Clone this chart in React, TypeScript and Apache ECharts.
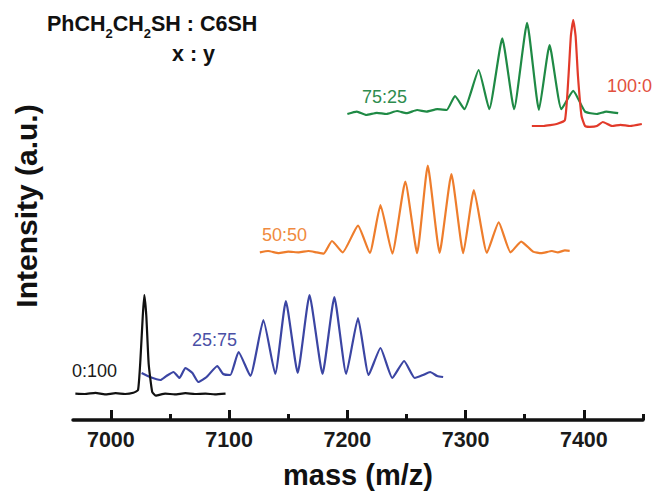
import React, { useEffect, useRef } from "react";
import * as echarts from "echarts";

// Axis ticks (mass, m/z)
const majorTicks = [7000, 7100, 7200, 7300, 7400];
const minorTicks = [7050, 7150, 7250, 7350, 7450];

// 0:100 (black)
const mass0_100 = [6970, 6978, 6987, 6995, 7004, 7012, 7019, 7023, 7025, 7027, 7028.3, 7030, 7032, 7035, 7038, 7046, 7054, 7063, 7071, 7080, 7088, 7097];
const int0_100 = [6.6, 6.5, 6.8, 6.4, 6.7, 6.5, 6.8, 7.5, 15, 26, 31.2, 26, 14, 7, 6.1, 6.6, 6.4, 6.7, 6.5, 6.6, 6.4, 6.6];

// 25:75 (blue)
const mass25_75 = [7026, 7033, 7042, 7047, 7053, 7058, 7063, 7069, 7074, 7081, 7090, 7095, 7101, 7108, 7118, 7129, 7139, 7148, 7158, 7168, 7179, 7189, 7199, 7209, 7218, 7228, 7238, 7248, 7257, 7264, 7270, 7276, 7281];
const int25_75 = [11.75, 10.75, 10, 11, 12, 10.5, 13, 11.75, 9.5, 10.75, 13.5, 11.5, 11.25, 17, 11, 25, 11.5, 29.75, 11.75, 31.25, 11.5, 30.75, 11.5, 25.5, 11.25, 18, 10.5, 14.75, 10.5, 11.25, 12, 11, 10.75];

// 50:50 (orange)
const mass50_50 = [7126, 7133, 7142, 7150, 7159, 7167, 7174, 7180, 7187, 7196, 7209, 7219, 7228, 7238, 7249, 7259, 7268, 7278, 7288, 7298, 7307, 7318, 7328, 7338, 7347, 7357, 7364, 7373, 7378, 7384, 7388];
const int50_50 = [41.9, 42.25, 41.7, 42.1, 41.9, 42.25, 41.9, 41.6, 44.75, 41.9, 48.6, 41.75, 53.75, 41.6, 59.6, 41.7, 63.6, 41.8, 61.5, 41.7, 57.5, 41.8, 49.4, 41.9, 44.6, 42.1, 41.7, 42.25, 41.9, 42.4, 42.3];

// 75:25 (green)
const mass75_25 = [7200, 7208, 7216, 7225, 7233, 7242, 7250, 7259, 7267, 7276, 7284, 7291, 7299, 7311, 7320, 7331, 7341, 7352, 7362, 7371, 7381, 7391, 7401, 7411, 7419, 7429];
const int75_25 = [76.5, 77.1, 76.25, 76.8, 76.5, 77.25, 76.7, 77.5, 77.1, 77.7, 77.5, 81, 77.7, 87.5, 77.7, 95.4, 77.7, 99.3, 77.5, 93.75, 77.7, 82.3, 77.1, 76.5, 77.1, 76.7];

// 100:0 (red)
const mass100_0 = [7356, 7366, 7377, 7384, 7387, 7389, 7391, 7393, 7395, 7398, 7401, 7405, 7411, 7416, 7424, 7431, 7439, 7449];
const int100_0 = [73.5, 73.5, 74, 75, 86, 96, 100, 96, 86, 76, 73.5, 73.3, 73.5, 74.5, 73.5, 73.8, 73.5, 74];

const pairs = (m: number[], v: number[]) => m.map((x, i) => [x, v[i]]);

const FONT = "'Liberation Sans', Arial, Helvetica, sans-serif";

export default function App() {
  const ref = useRef<HTMLDivElement>(null);
  useEffect(() => {
    document.body.style.margin = "0";
    const chart = echarts.init(ref.current as HTMLDivElement, null, { renderer: "svg" });
    const line = (data: number[][], color: string, z: number) => ({
      type: "line",
      data,
      showSymbol: false,
      smooth: 0.15,
      z,
      lineStyle: { color, width: 2.2 },
      itemStyle: { color },
      silent: true,
    });
    chart.setOption({
      animation: false,
      backgroundColor: "#ffffff",
      grid: { left: 73, right: 9, top: 20, bottom: 72, containLabel: false, outerBoundsMode: "none" },
      xAxis: [
        {
          type: "value",
          min: 6968,
          max: 7450,
          position: "bottom",
          axisLine: { show: true, onZero: false, lineStyle: { color: "#111", width: 3.5 } },
          axisTick: { show: true, inside: true, length: 10, customValues: majorTicks, lineStyle: { color: "#111", width: 3 } },
          axisLabel: {
            customValues: majorTicks,
            formatter: (v: number) => String(v),
            fontSize: 21.5,
            fontWeight: "bold",
            color: "#1a1a1a",
            margin: 9,
            fontFamily: FONT,
          },
          splitLine: { show: false },
          name: "mass (m/z)",
          nameLocation: "middle",
          nameGap: 40,
          nameTextStyle: { fontSize: 29, fontWeight: "bold", color: "#111", fontFamily: FONT, lineHeight: 30 },
        },
        {
          type: "value",
          min: 6968,
          max: 7450,
          position: "bottom",
          axisLine: { show: false },
          axisTick: { show: true, inside: true, length: 6, customValues: minorTicks, lineStyle: { color: "#111", width: 3 } },
          axisLabel: { show: false },
          splitLine: { show: false },
        },
      ],
      yAxis: { type: "value", min: 0, max: 100, show: false },
      series: [
        line(pairs(mass25_75, int25_75), "#3b45a3", 2),
        line(pairs(mass0_100, int0_100), "#111111", 3),
        line(pairs(mass50_50, int50_50), "#ee7d2c", 2),
        line(pairs(mass75_25, int75_25), "#1f8a45", 2),
        line(pairs(mass100_0, int100_0), "#e23a2a", 4),
      ],
      graphic: [
        {
          type: "text",
          x: 26,
          y: 206,
          rotation: Math.PI / 2,
          style: { text: "Intensity (a.u.)", fontSize: 30, fontWeight: "bold", fill: "#111", align: "center", verticalAlign: "middle", fontFamily: FONT },
        },
        {
          type: "text",
          x: 47,
          y: 8,
          style: {
            text: "{m|PhCH}{s|2}{m|CH}{s|2}{m|SH : C6SH}",
            fontFamily: FONT,
            align: "left",
            verticalAlign: "top",
            rich: {
              m: { fontSize: 21.5, fontWeight: "bold", fill: "#111", lineHeight: 32, verticalAlign: "middle", fontFamily: FONT },
              s: { fontSize: 13, fontWeight: "bold", fill: "#111", lineHeight: 13, verticalAlign: "bottom", fontFamily: FONT },
            },
          },
        },
        {
          type: "text",
          x: 172,
          y: 54,
          style: { text: "x : y", fontSize: 21.5, fontWeight: "bold", fill: "#111", align: "left", verticalAlign: "middle", fontFamily: FONT },
        },
        { type: "text", x: 72, y: 371, style: { text: "0:100", fontSize: 18, fill: "#1a1a1a", align: "left", verticalAlign: "middle", fontFamily: FONT } },
        { type: "text", x: 192, y: 340, style: { text: "25:75", fontSize: 18, fill: "#4a4fa6", align: "left", verticalAlign: "middle", fontFamily: FONT } },
        { type: "text", x: 262, y: 235, style: { text: "50:50", fontSize: 18, fill: "#f08a40", align: "left", verticalAlign: "middle", fontFamily: FONT } },
        { type: "text", x: 362, y: 97, style: { text: "75:25", fontSize: 18, fill: "#2e8b4e", align: "left", verticalAlign: "middle", fontFamily: FONT } },
        { type: "text", x: 607, y: 86, style: { text: "100:0", fontSize: 18, fill: "#e2503e", align: "left", verticalAlign: "middle", fontFamily: FONT } },
      ],
    });
    return () => chart.dispose();
  }, []);
  return <div ref={ref} style={{ position: "absolute", left: 0, top: 0, width: 652, height: 492 }} />;
}
